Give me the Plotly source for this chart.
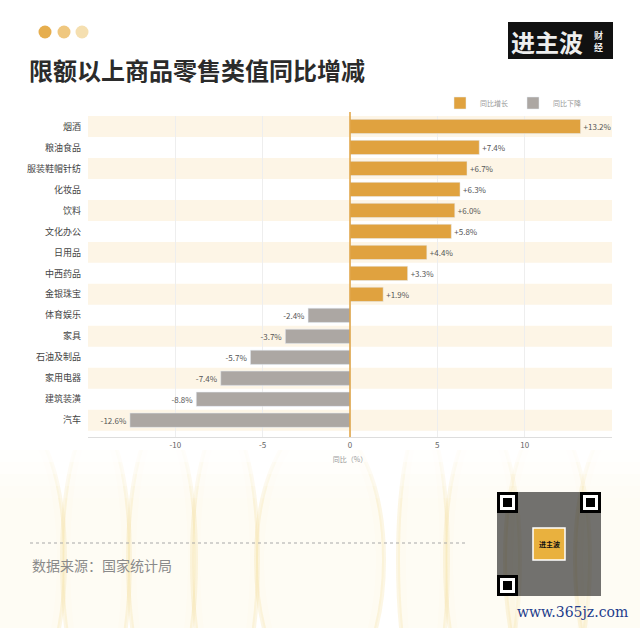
import plotly.graph_objects as go

# data
categories = ["烟酒", "粮油食品", "服装鞋帽针纺", "化妆品", "饮料", "文化办公", "日用品",
              "中西药品", "金银珠宝", "体育娱乐", "家具", "石油及制品", "家用电器",
              "建筑装潢", "汽车"]
values = [13.2, 7.4, 6.7, 6.3, 6.0, 5.8, 4.4, 3.3, 1.9,
          -2.4, -3.7, -5.7, -7.4, -8.8, -12.6]
x_ticks = [-10, -5, 0, 5, 10]

W, H = 640, 628
FONT = "Noto Sans CJK SC"
ORANGE = "#E0A23F"
GREY = "#ACA7A3"


def px(x):
    return x / W


def py(y):
    return 1 - y / H


pos_cat = [c for c, v in zip(categories, values) if v >= 0]
pos_val = [v for v in values if v >= 0]
neg_cat = [c for c, v in zip(categories, values) if v < 0]
neg_val = [v for v in values if v < 0]

fig = go.Figure()
fig.add_trace(go.Bar(
    y=pos_cat, x=pos_val, orientation="h", name="同比增长",
    marker_color=ORANGE, width=0.68,
    text=[f"{v:+.1f}%" for v in pos_val], textposition="outside",
    textfont=dict(size=8, color="#555"), cliponaxis=False,
))
fig.add_trace(go.Bar(
    y=neg_cat, x=neg_val, orientation="h", name="同比下降",
    marker_color=GREY, width=0.68,
    text=[f"{v:+.1f}%" for v in neg_val], textposition="outside",
    textfont=dict(size=8, color="#555"), cliponaxis=False,
))

shapes = []

# soft lens shapes in the lower background
lenses = [(-30, 65), (62, 130), (128, 196), (192, 258), (256, 384), (398, 448),
          (445, 520), (505, 590), (575, 670)]
for x0, x1 in lenses:
    shapes.append(dict(type="circle", xref="paper", yref="paper",
                       x0=px(x0), x1=px(x1), y0=py(700), y1=py(420),
                       fillcolor="rgba(250,235,185,0.2)",
                       line=dict(color="rgba(242,212,130,0.22)", width=4),
                       layer="below"))
    shapes.append(dict(type="circle", xref="paper", yref="paper",
                       x0=px(x0 + 8), x1=px(x1 - 8), y0=py(690), y1=py(430),
                       fillcolor="rgba(255,255,255,0.25)", line_width=0,
                       layer="below"))
# white panel behind the chart, fading out downwards
shapes.append(dict(type="rect", xref="paper", yref="paper",
                   x0=0, x1=1, y0=py(450), y1=1,
                   fillcolor="white", line_width=0, layer="below"))
for k, op in enumerate([0.8, 0.6, 0.4, 0.2]):
    shapes.append(dict(type="rect", xref="paper", yref="paper",
                       x0=0, x1=1, y0=py(450 + 12 * (k + 1)), y1=py(450 + 12 * k),
                       fillcolor=f"rgba(255,255,255,{op})", line_width=0, layer="below"))

# alternate row bands
for i in range(0, len(categories), 2):
    shapes.append(dict(type="rect", xref="x domain", yref="y",
                       x0=0, x1=1, y0=i - 0.5, y1=i + 0.5,
                       fillcolor="#FDF5E6", line_width=0, layer="below"))

# zero line
shapes.append(dict(type="line", xref="x", yref="paper", x0=0, x1=0,
                   y0=py(437), y1=py(112), line=dict(color=ORANGE, width=1.5)))

# header dots
for cx, col in [(45, "#E6AE4E"), (64, "#EFC77F"), (82, "#F5DFB0")]:
    shapes.append(dict(type="circle", xref="paper", yref="paper",
                       x0=px(cx - 6.5), x1=px(cx + 6.5),
                       y0=py(38.5), y1=py(25.5), fillcolor=col, line_width=0))

# logo block
shapes.append(dict(type="rect", xref="paper", yref="paper",
                   x0=px(509), x1=px(612), y0=py(58), y1=py(23),
                   fillcolor="#111", line=dict(color="#111", width=2)))

# footer dashed line
shapes.append(dict(type="line", xref="paper", yref="paper",
                   x0=px(30), x1=px(468), y0=py(543), y1=py(543),
                   line=dict(color="#A8A8A8", width=1, dash="3px,3px")))

# QR code block
shapes.append(dict(type="rect", xref="paper", yref="paper",
                   x0=px(497), x1=px(601), y0=py(596), y1=py(492),
                   fillcolor="rgba(20,20,20,0.6)", line_width=0))
for fx, fy in [(497, 492), (580, 492), (497, 575)]:
    shapes.append(dict(type="rect", xref="paper", yref="paper",
                       x0=px(fx), x1=px(fx + 21), y0=py(fy + 21), y1=py(fy),
                       fillcolor="#000", line_width=0))
    shapes.append(dict(type="rect", xref="paper", yref="paper",
                       x0=px(fx + 3), x1=px(fx + 18), y0=py(fy + 18), y1=py(fy + 3),
                       fillcolor="#fff", line_width=0))
    shapes.append(dict(type="rect", xref="paper", yref="paper",
                       x0=px(fx + 6), x1=px(fx + 15), y0=py(fy + 15), y1=py(fy + 6),
                       fillcolor="#000", line_width=0))
shapes.append(dict(type="rect", xref="paper", yref="paper",
                   x0=px(533), x1=px(565), y0=py(560), y1=py(528),
                   fillcolor="#E9B13E", line=dict(color="#fff", width=1.5)))

annotations = [
    dict(text="限额以上商品零售类值同比增减", x=px(27), y=py(70), xref="paper", yref="paper",
         xanchor="left", yanchor="middle", showarrow=False,
         font=dict(size=24, color="#2b2b2b", family=FONT, weight="bold")),
    dict(text="进主波", x=px(547), y=py(41), xref="paper", yref="paper",
         xanchor="center", yanchor="middle", showarrow=False,
         font=dict(size=24, color="#eeeeee", family=FONT, weight="bold")),
    dict(text="财<br>经", x=px(598), y=py(41), xref="paper", yref="paper",
         xanchor="center", yanchor="middle", showarrow=False,
         font=dict(size=9, color="#eeeeee", family=FONT, weight="bold")),
    dict(text="数据来源：国家统计局", x=px(30), y=py(565), xref="paper", yref="paper",
         xanchor="left", yanchor="middle", showarrow=False,
         font=dict(size=14, color="#8a8a8a", family=FONT)),
    dict(text="进主波", x=px(549), y=py(544), xref="paper", yref="paper",
         xanchor="center", yanchor="middle", showarrow=False,
         font=dict(size=7, color="#111", family=FONT, weight="bold")),
    dict(text="www.365jz.com", x=px(630), y=py(612), xref="paper", yref="paper",
         xanchor="right", yanchor="middle", showarrow=False,
         font=dict(size=14, color="#1E3C8C", family="DejaVu Serif")),
]

fig.update_layout(
    width=W, height=H,
    margin=dict(l=0, r=0, t=0, b=0),
    paper_bgcolor="white", plot_bgcolor="rgba(0,0,0,0)",
    barmode="overlay",
    font=dict(family=FONT, color="#555"),
    shapes=shapes, annotations=annotations,
    showlegend=True,
    legend=dict(orientation="h", x=px(440), y=py(103), xanchor="left", yanchor="middle",
                font=dict(size=7, color="#999"), bgcolor="rgba(0,0,0,0)",
                itemwidth=30, tracegroupgap=0),
    xaxis=dict(domain=[px(88), px(612)], range=[-15, 15], tickvals=x_ticks,
               ticktext=[str(t) for t in x_ticks],
               showgrid=True, gridcolor="#EEEEEE", gridwidth=1,
               zeroline=False, showline=True, linecolor="#DDDDDD", linewidth=1,
               tickfont=dict(size=8, color="#666"), ticks="",
               title=dict(text="同比（%）", font=dict(size=7, color="#999"), standoff=8)),
    yaxis=dict(domain=[py(437), py(116)], categoryorder="array", categoryarray=categories,
               range=[14.8, -0.5], showgrid=False, zeroline=False, showline=False,
               tickfont=dict(size=9, color="#444"), ticks="", ticklabelstandoff=6),
)

fig.write_html("out.html", config={"displayModeBar": False},
               post_script="document.body.style.margin='0';document.body.style.overflow='hidden';")
